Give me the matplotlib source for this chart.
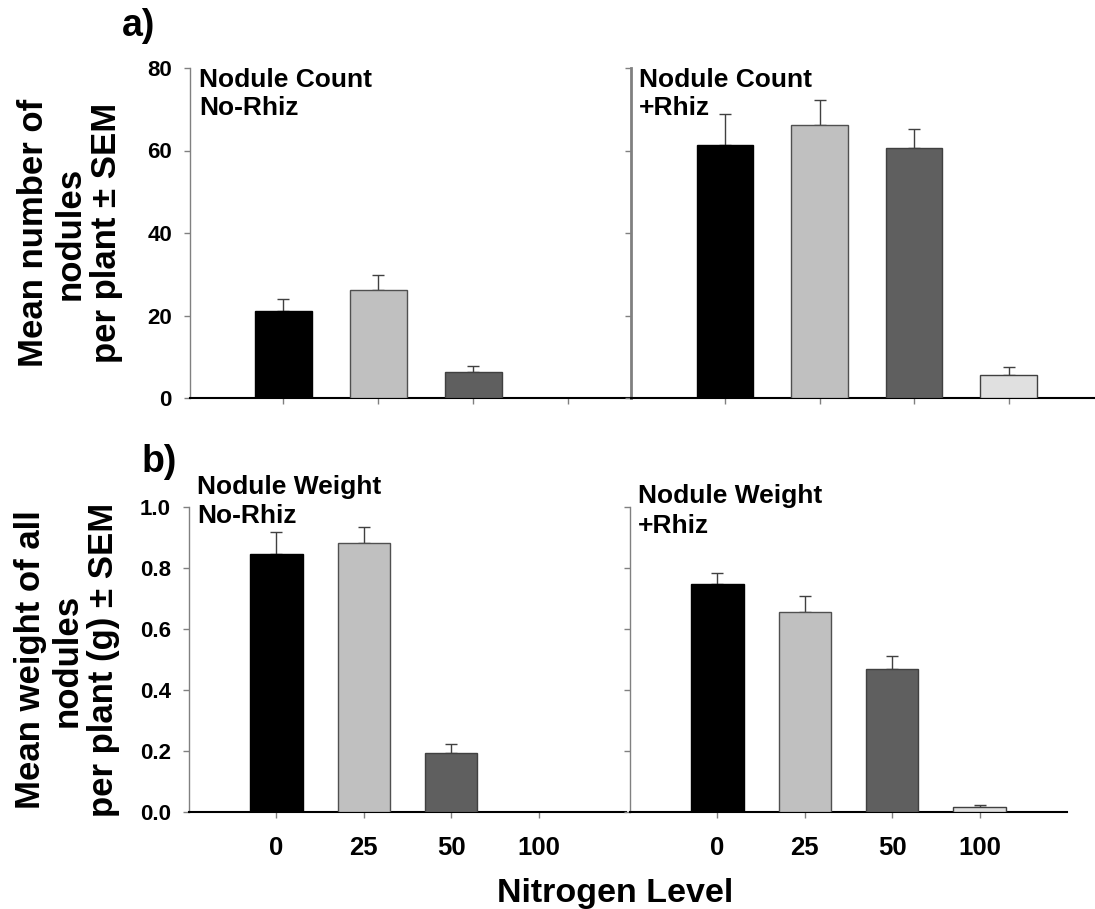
'''
nodule count and nodule weight by nitrogen level, with and without rhizobia
mean +/- SEM bars
'''

import numpy as np
import matplotlib.pyplot as plt

plt.rcParams['font.family'] = ['Liberation Sans', 'DejaVu Sans']
plt.rcParams['font.weight'] = 'bold'

nitrogen = ['0', '25', '50', '100']
colors = ['#000000', '#c0c0c0', '#5f5f5f', '#e0e0e0']
edges = ['#000000', '#505050', '#404040', '#404040']

# nodule count per plant
count_norhiz = [21.1, 26.3, 6.3, 0.0]
count_norhiz_sem = [2.9, 3.5, 1.5, 0.0]
count_rhiz = [61.3, 66.2, 60.7, 5.6]
count_rhiz_sem = [7.5, 6.0, 4.6, 2.0]

# nodule weight per plant (g)
weight_norhiz = [0.846, 0.881, 0.192, 0.0]
weight_norhiz_sem = [0.071, 0.052, 0.030, 0.0]
weight_rhiz = [0.746, 0.655, 0.470, 0.015]
weight_rhiz_sem = [0.039, 0.054, 0.041, 0.007]

W, H = 1095, 909
fig = plt.figure(figsize=(W / 100, H / 100), dpi=100)


def px_axes(x0, y0, x1, y1):
    # axes from pixel box (top-left origin)
    return fig.add_axes([x0 / W, 1 - y1 / H, (x1 - x0) / W, (y1 - y0) / H])


def draw(ax, vals, sems, xlim, ylim, yticks, ylabels, xlabels, lw_left=1.0):
    x = np.arange(len(vals))
    vals = np.array(vals)
    sems = np.array(sems)
    keep = vals > 0
    ax.bar(x[keep], vals[keep], width=0.6, color=np.array(colors)[keep],
           edgecolor=np.array(edges)[keep], linewidth=1.0, zorder=3)
    ekeep = sems > 0
    ax.errorbar(x[ekeep], vals[ekeep], yerr=[np.zeros(ekeep.sum()), sems[ekeep]],
                fmt='none', ecolor='#404040', elinewidth=1.0, capsize=4,
                capthick=1.0, zorder=2)
    ax.set_xlim(*xlim)
    ax.set_ylim(*ylim)
    ax.set_yticks(yticks)
    ax.set_xticks(x)
    for s in ['top', 'right']:
        ax.spines[s].set_visible(False)
    ax.spines['left'].set_color('#808080')
    ax.spines['left'].set_linewidth(lw_left)
    ax.spines['bottom'].set_color('black')
    ax.spines['bottom'].set_linewidth(1.5)
    ax.tick_params(axis='both', direction='out', length=4, width=1, color='#808080')
    ax.tick_params(axis='y', labelsize=16, pad=9)
    ax.tick_params(axis='x', labelsize=18.5, pad=13)
    if ylabels:
        ax.set_yticklabels(ylabels, fontweight='bold')
    else:
        ax.set_yticklabels([])
    if xlabels:
        ax.set_xticklabels(nitrogen, fontweight='bold')
    else:
        ax.set_xticklabels([])
    ax.patch.set_alpha(0)


cnt_ticks = [0, 20, 40, 60, 80]
wt_ticks = [0.0, 0.2, 0.4, 0.6, 0.8, 1.0]

ax1 = px_axes(190, 68, 631, 398)
draw(ax1, count_norhiz, count_norhiz_sem, (-0.98, 3.66), (0, 80), cnt_ticks,
     [str(t) for t in cnt_ticks], False)
ax2 = px_axes(631, 68, 1095, 398)
draw(ax2, count_rhiz, count_rhiz_sem, (-0.995, 3.915), (0, 80), cnt_ticks,
     None, False, lw_left=2.0)

ax3 = px_axes(189, 507, 626, 812)
draw(ax3, weight_norhiz, weight_norhiz_sem, (-1.0, 4.0), (0, 1.0), wt_ticks,
     ['%.1f' % t for t in wt_ticks], True)
ax4 = px_axes(630, 507, 1067, 812)
draw(ax4, weight_rhiz, weight_rhiz_sem, (-1.0, 4.0), (0, 1.0), wt_ticks,
     None, True)


def ftext(x, y, s, **kw):
    fig.text(x / W, 1 - y / H, s, fontweight='bold', **kw)


# panel titles (pixel baselines)
ftext(199, 87, 'Nodule Count', fontsize=19, va='baseline')
ftext(199, 115, 'No-Rhiz', fontsize=19, va='baseline')
ftext(639, 87, 'Nodule Count', fontsize=19, va='baseline')
ftext(639, 115, '+Rhiz', fontsize=19, va='baseline')
ftext(197, 494, 'Nodule Weight', fontsize=19, va='baseline')
ftext(197, 523, 'No-Rhiz', fontsize=19, va='baseline')
ftext(638, 503, 'Nodule Weight', fontsize=19, va='baseline')
ftext(638, 533, '+Rhiz', fontsize=19, va='baseline')

ftext(122, 36, 'a)', fontsize=27, va='baseline')
ftext(142, 472, 'b)', fontsize=27, va='baseline')

ftext(70, 233, 'Mean number of\nnodules\nper plant \u00b1 SEM', fontsize=25,
      rotation=90, ha='center', va='center', multialignment='center', linespacing=1.12)
ftext(67, 660, 'Mean weight of all\nnodules\nper plant (g) \u00b1 SEM', fontsize=25,
      rotation=90, ha='center', va='center', multialignment='center', linespacing=1.12)

ftext(615, 902, 'Nitrogen Level', fontsize=24.5, ha='center', va='baseline')

plt.savefig('out.png', dpi=100)
